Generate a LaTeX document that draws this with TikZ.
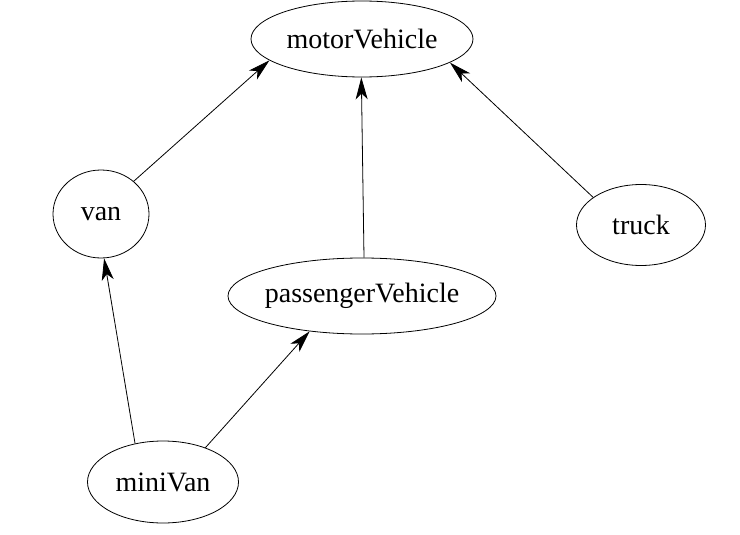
\documentclass[tikz,border=0pt]{standalone}
\usepackage{fontspec}
\setmainfont{Liberation Serif}
\usetikzlibrary{shapes.geometric,arrows.meta}
\begin{document}
\begin{tikzpicture}[x=1pt,y=-1pt,
  cls/.style={draw,ellipse,inner sep=0pt,line width=0.8pt,font=\fontsize{28}{30}\selectfont},
  inh/.style={-{Stealth[length=22pt,width=12pt,inset=6pt]},line width=0.8pt}]
\useasboundingbox (0,0) rectangle (740,535);
\node[cls,minimum width=222pt,minimum height=76pt] (mv) at (362,39) {motorVehicle};
\node[cls,minimum width=96pt,minimum height=88pt] (van) at (101,214) {van};
\node[cls,minimum width=129pt,minimum height=81pt] (truck) at (641,225) {truck};
\node[cls,minimum width=268pt,minimum height=76pt,inner xsep=-20pt] (pv) at (362,296) {passengerVehicle};
\node[cls,minimum width=151pt,minimum height=82pt] (mini) at (163,482) {miniVan};
\draw[inh] (van.45) -- (mv.193);
\draw[inh] (pv.87) -- (mv.269);
\draw[inh] (truck.150) -- (mv.-15.5);
\draw[inh] (mini.126.6) -- (van.274);
\draw[inh] (mini.39.8) -- (pv.214.2);
\end{tikzpicture}
\end{document}
